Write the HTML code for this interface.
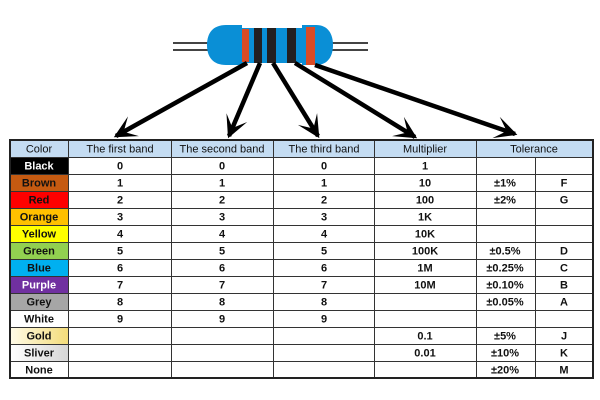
<!DOCTYPE html>
<html><head><meta charset="utf-8"><style>
html,body{margin:0;padding:0;background:#fff;}
svg{display:block;}
text{font-family:"Liberation Sans",sans-serif;font-size:11px;}
.b{font-weight:bold;}
</style></head><body>
<svg width="600" height="400" viewBox="0 0 600 400" xmlns="http://www.w3.org/2000/svg">
<defs>
<marker id="ah" markerUnits="userSpaceOnUse" markerWidth="30" markerHeight="30" refX="0" refY="0" viewBox="-20 -12 24 24" orient="auto" overflow="visible">
<path d="M2,0 L-16,-9 L-7,0 L-16,9 Z" fill="#000"/>
</marker>
<linearGradient id="gold" x1="0" x2="1" y1="0" y2="0"><stop offset="0" stop-color="#fffbe8"/><stop offset="1" stop-color="#f3dc7a"/></linearGradient>
<linearGradient id="silver" x1="0" x2="1" y1="0" y2="0"><stop offset="0" stop-color="#ffffff"/><stop offset="1" stop-color="#d6d6d6"/></linearGradient>
</defs>

<!-- leads -->
<g stroke="#444" stroke-width="2">
<line x1="173" y1="43" x2="210" y2="43"/><line x1="173" y1="50" x2="210" y2="50"/>
<line x1="330" y1="43" x2="368" y2="43"/><line x1="330" y1="50" x2="368" y2="50"/>
</g>
<!-- body -->
<g fill="#0a8fd6">
<path d="M242,25 L226,25 C213,25 207,33 207,45 C207,57 213,65 226,65 L242,65 Z"/>
<rect x="236" y="28" width="72" height="35"/>
<path d="M302,25 L316,25 C328,25 333,34 333,45 C333,56 328,65 316,65 L302,65 Z"/>
</g>
<rect x="242" y="29" width="7" height="33" fill="#d94b26"/>
<rect x="254" y="28" width="8" height="35" fill="#231f20"/>
<rect x="267" y="28" width="9" height="35" fill="#231f20"/>
<rect x="287" y="28" width="9" height="35" fill="#231f20"/>
<rect x="306" y="27" width="9" height="38" fill="#d94b26"/>

<!-- arrows -->
<g stroke="#000" stroke-width="4.5" marker-end="url(#ah)">
<line x1="247" y1="63" x2="116" y2="136"/>
<line x1="260" y1="63" x2="229" y2="136"/>
<line x1="273" y1="63" x2="318" y2="136"/>
<line x1="295" y1="63" x2="415" y2="137"/>
<line x1="315" y1="65" x2="515" y2="134"/>
</g>

<!-- table fills -->
<rect x="10" y="140" width="583" height="17" fill="#c4dcf2"/>
<rect x="10" y="157" width="58" height="17" fill="#000"/>
<rect x="10" y="174" width="58" height="17" fill="#c55a11"/>
<rect x="10" y="191" width="58" height="17" fill="#ff0000"/>
<rect x="10" y="208" width="58" height="17" fill="#ffc000"/>
<rect x="10" y="225" width="58" height="17" fill="#ffff00"/>
<rect x="10" y="242" width="58" height="17" fill="#92d050"/>
<rect x="10" y="259" width="58" height="17" fill="#00b0f0"/>
<rect x="10" y="276" width="58" height="17" fill="#7030a0"/>
<rect x="10" y="293" width="58" height="17" fill="#a6a6a6"/>
<rect x="10" y="327" width="58" height="17" fill="url(#gold)"/>
<rect x="10" y="344" width="58" height="17" fill="url(#silver)"/>

<!-- grid -->
<g stroke="#333" stroke-width="1">
<line x1="10" y1="157.5" x2="593" y2="157.5"/>
<line x1="10" y1="174.5" x2="593" y2="174.5"/>
<line x1="10" y1="191.5" x2="593" y2="191.5"/>
<line x1="10" y1="208.5" x2="593" y2="208.5"/>
<line x1="10" y1="225.5" x2="593" y2="225.5"/>
<line x1="10" y1="242.5" x2="593" y2="242.5"/>
<line x1="10" y1="259.5" x2="593" y2="259.5"/>
<line x1="10" y1="276.5" x2="593" y2="276.5"/>
<line x1="10" y1="293.5" x2="593" y2="293.5"/>
<line x1="10" y1="310.5" x2="593" y2="310.5"/>
<line x1="10" y1="327.5" x2="593" y2="327.5"/>
<line x1="10" y1="344.5" x2="593" y2="344.5"/>
<line x1="10" y1="361.5" x2="593" y2="361.5"/>
<line x1="68.5" y1="140" x2="68.5" y2="378"/>
<line x1="171.5" y1="140" x2="171.5" y2="378"/>
<line x1="273.5" y1="140" x2="273.5" y2="378"/>
<line x1="374.5" y1="140" x2="374.5" y2="378"/>
<line x1="476.5" y1="140" x2="476.5" y2="378"/>
<line x1="535.5" y1="157" x2="535.5" y2="378"/>
</g>
<rect x="10" y="140" width="583" height="238" fill="none" stroke="#222" stroke-width="2"/>

<!-- header text -->
<g text-anchor="middle" fill="#111">
<text x="39" y="152.5">Color</text>
<text x="120" y="152.5">The first band</text>
<text x="222" y="152.5">The second band</text>
<text x="324" y="152.5">The third band</text>
<text x="425" y="152.5">Multiplier</text>
<text x="534" y="152.5">Tolerance</text>
</g>

<!-- color names -->
<g text-anchor="middle" class="b" fill="#111">
<text x="39" y="169.5" fill="#fff">Black</text>
<text x="39" y="186.5">Brown</text>
<text x="39" y="203.5">Red</text>
<text x="39" y="220.5">Orange</text>
<text x="39" y="237.5">Yellow</text>
<text x="39" y="254.5">Green</text>
<text x="39" y="271.5">Blue</text>
<text x="39" y="288.5" fill="#fff">Purple</text>
<text x="39" y="305.5">Grey</text>
<text x="39" y="322.5">White</text>
<text x="39" y="339.5">Gold</text>
<text x="39" y="356.5">Sliver</text>
<text x="39" y="373.5">None</text>
</g>

<!-- digits -->
<g text-anchor="middle" class="b" fill="#111">
<text x="120" y="169.5">0</text><text x="222" y="169.5">0</text><text x="324" y="169.5">0</text><text x="425" y="169.5">1</text>
<text x="120" y="186.5">1</text><text x="222" y="186.5">1</text><text x="324" y="186.5">1</text><text x="425" y="186.5">10</text><text x="505" y="186.5">±1%</text><text x="564" y="186.5">F</text>
<text x="120" y="203.5">2</text><text x="222" y="203.5">2</text><text x="324" y="203.5">2</text><text x="425" y="203.5">100</text><text x="505" y="203.5">±2%</text><text x="564" y="203.5">G</text>
<text x="120" y="220.5">3</text><text x="222" y="220.5">3</text><text x="324" y="220.5">3</text><text x="425" y="220.5">1K</text>
<text x="120" y="237.5">4</text><text x="222" y="237.5">4</text><text x="324" y="237.5">4</text><text x="425" y="237.5">10K</text>
<text x="120" y="254.5">5</text><text x="222" y="254.5">5</text><text x="324" y="254.5">5</text><text x="425" y="254.5">100K</text><text x="505" y="254.5">±0.5%</text><text x="564" y="254.5">D</text>
<text x="120" y="271.5">6</text><text x="222" y="271.5">6</text><text x="324" y="271.5">6</text><text x="425" y="271.5">1M</text><text x="505" y="271.5">±0.25%</text><text x="564" y="271.5">C</text>
<text x="120" y="288.5">7</text><text x="222" y="288.5">7</text><text x="324" y="288.5">7</text><text x="425" y="288.5">10M</text><text x="505" y="288.5">±0.10%</text><text x="564" y="288.5">B</text>
<text x="120" y="305.5">8</text><text x="222" y="305.5">8</text><text x="324" y="305.5">8</text><text x="505" y="305.5">±0.05%</text><text x="564" y="305.5">A</text>
<text x="120" y="322.5">9</text><text x="222" y="322.5">9</text><text x="324" y="322.5">9</text>
<text x="425" y="339.5">0.1</text><text x="505" y="339.5">±5%</text><text x="564" y="339.5">J</text>
<text x="425" y="356.5">0.01</text><text x="505" y="356.5">±10%</text><text x="564" y="356.5">K</text>
<text x="505" y="373.5">±20%</text><text x="564" y="373.5">M</text>
</g>
</svg>
</body></html>
